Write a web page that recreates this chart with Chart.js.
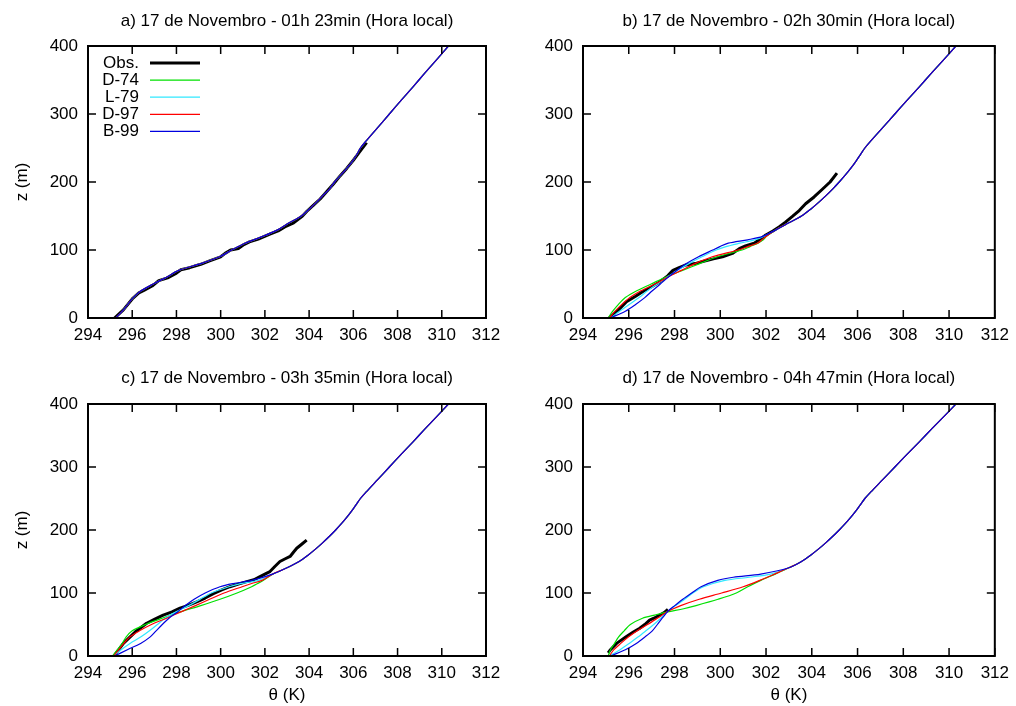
<!DOCTYPE html>
<html lang="pt">
<head>
<meta charset="utf-8">
<title>Perfis de temperatura potencial - 17 de Novembro</title>
<script src="https://cdn.jsdelivr.net/npm/chart.js@4.4.1/dist/chart.umd.min.js"></script>
<style>
  html, body { margin: 0; padding: 0; background: #fff; }
  #figura { position: relative; width: 1016px; height: 706px; }
  #figura canvas { position: absolute; }
</style>
</head>
<body>
<div id="figura">
  <canvas id="grafA" width="508" height="353" style="left:0;top:0"></canvas>
  <canvas id="grafB" width="508" height="353" style="left:508px;top:0"></canvas>
  <canvas id="grafC" width="508" height="353" style="left:0;top:353px"></canvas>
  <canvas id="grafD" width="508" height="353" style="left:508px;top:353px"></canvas>
</div>
<script>
// eixos
const ticksTheta = [294, 296, 298, 300, 302, 304, 306, 308, 310, 312];
const ticksZ = [0, 100, 200, 300, 400];

// acima da camada estavel todas as simulacoes seguem o mesmo perfil
const zTopo =     [140, 150, 160, 170, 180, 190, 200, 210, 220, 230, 240, 250, 260, 280, 300, 320, 340, 360, 380, 400];
const thetaTopo = [303.0, 303.55, 303.95, 304.3, 304.62, 304.92, 305.2, 305.46, 305.7, 305.92, 306.12, 306.32, 306.57, 307.1, 307.63, 308.16, 308.7, 309.23, 309.77, 310.3];

// a) 01h 23min
const zObsA =     [0, 12, 28, 37, 41, 47, 55, 59, 66, 71, 74, 79, 84, 90, 95, 100, 102, 108, 112, 116, 123, 128, 134, 140, 150, 157, 166, 175, 186, 197, 209, 220, 232, 245, 258];
const thetaObsA = [295.2, 295.6, 296.0, 296.3, 296.55, 296.9, 297.2, 297.6, 298.0, 298.2, 298.6, 299.1, 299.5, 300.0, 300.2, 300.45, 300.8, 301.05, 301.3, 301.7, 302.2, 302.6, 302.9, 303.3, 303.7, 303.9, 304.2, 304.5, 304.8, 305.1, 305.4, 305.7, 306.0, 306.3, 306.6];
const zModA =     [0, 10, 20, 30, 40, 50, 60, 70, 80, 90, 100, 110, 120, 130, 140, 150, 160, 170, 180, 190, 200, 210, 220, 230, 240];
const thetaModA = [295.25, 295.55, 295.8, 296.05, 296.4, 296.95, 297.55, 298.1, 299.1, 299.95, 300.5, 301.1, 301.9, 302.6, 303.1, 303.65, 304.0, 304.33, 304.62, 304.93, 305.15, 305.43, 305.7, 305.95, 306.15];

// b) 02h 30min
const zObsB =     [0, 10, 24, 32, 39, 46, 53, 62, 70, 74, 78, 80, 83, 87, 90, 95, 102, 106, 110, 116, 122, 128, 134, 141, 149, 158, 168, 178, 189, 200, 213];
const thetaObsB = [295.15, 295.5, 295.9, 296.3, 296.62, 297.0, 297.35, 297.7, 297.93, 298.2, 298.5, 298.9, 299.23, 299.7, 300.1, 300.53, 300.83, 301.1, 301.48, 301.75, 301.99, 302.3, 302.57, 302.85, 303.14, 303.45, 303.73, 304.1, 304.45, 304.8, 305.1];
const zModB = [0, 10, 20, 30, 40, 50, 60, 70, 80, 90, 100, 105, 110, 115, 120, 130];
const d74B = [295.1, 295.3, 295.55, 295.85, 296.35, 296.98, 297.6, 298.35, 299.1, 299.88, 300.95, 301.3, 301.65, 301.88, 302.02, 302.45];
const l79B = [295.2, 295.6, 296.02, 296.45, 296.82, 297.25, 297.68, 298.12, 298.63, 299.2, 299.82, 300.25, 300.85, 301.5, 301.9, 302.45];
const d97B = [295.15, 295.4, 295.7, 296.05, 296.53, 297.15, 297.7, 298.3, 298.9, 299.65, 300.78, 301.2, 301.62, 301.82, 302.0, 302.45];
const b99B = [295.2, 295.85, 296.3, 296.7, 297.03, 297.38, 297.72, 298.1, 298.52, 299.05, 299.67, 299.98, 300.35, 301.2, 301.85, 302.45];

// c) 03h 35min
const zObsC =     [1, 20, 38, 52, 58, 65, 70, 76, 80, 86, 92, 99, 105, 110, 114, 118, 121, 126, 130, 134, 142, 150, 154, 158, 165, 171, 177, 184];
const thetaObsC = [295.2, 295.6, 296.13, 296.65, 297.0, 297.4, 297.8, 298.16, 298.5, 298.92, 299.3, 299.67, 300.05, 300.42, 300.8, 301.18, 301.5, 301.78, 302.0, 302.23, 302.45, 302.68, 302.9, 303.14, 303.3, 303.44, 303.65, 303.89];
const zModC = [0, 10, 20, 30, 40, 50, 60, 70, 80, 90, 100, 110, 115, 120, 130];
const d74C = [295.1, 295.33, 295.55, 295.72, 296.0, 296.6, 297.35, 298.17, 299.1, 299.97, 300.74, 301.4, 301.67, 301.92, 302.35];
const l79C = [295.15, 295.5, 295.9, 296.38, 296.78, 297.14, 297.48, 297.98, 298.55, 299.07, 299.57, 300.37, 300.9, 301.7, 302.35];
const d97C = [295.15, 295.4, 295.62, 295.88, 296.33, 296.87, 297.55, 298.2, 298.86, 299.5, 300.15, 300.97, 301.4, 301.87, 302.35];
const b99C = [295.2, 295.78, 296.38, 296.8, 297.08, 297.36, 297.66, 298.05, 298.4, 298.8, 299.3, 299.97, 300.57, 301.4, 302.35];

// d) 04h 47min
const zObsD =     [5, 10, 20, 26, 31, 38, 44, 50, 57, 60, 65, 69, 74];
const thetaObsD = [295.1, 295.2, 295.47, 295.7, 295.9, 296.2, 296.48, 296.7, 296.91, 297.1, 297.35, 297.55, 297.71];
const zModD = [0, 10, 20, 30, 40, 50, 60, 65, 70, 75, 80, 90, 100, 110, 120, 125, 130];
const d74D = [295.1, 295.2, 295.38, 295.55, 295.8, 296.07, 296.6, 297.13, 297.7, 298.4, 298.94, 299.9, 300.7, 301.2, 301.77, 302.08, 302.4];
const l79D = [295.15, 295.62, 296.02, 296.4, 296.75, 297.09, 297.4, 297.53, 297.68, 297.85, 298.05, 298.44, 298.8, 299.27, 300.2, 301.26, 302.2];
const d97D = [295.15, 295.35, 295.65, 295.98, 296.37, 296.82, 297.25, 297.46, 297.67, 297.95, 298.27, 299.08, 300.06, 301.0, 301.73, 302.05, 302.37];
const b99D = [295.2, 295.85, 296.33, 296.7, 297.03, 297.25, 297.46, 297.57, 297.69, 297.83, 298.01, 298.36, 298.75, 299.16, 299.89, 300.57, 301.77];

const rotulos = ['Obs.', 'D-74', 'L-79', 'D-97', 'B-99'];
const cores = ['#000000', '#00e000', '#30e8ff', '#ff0000', '#0000e0'];
const espessuras = [3, 1.2, 1.2, 1.2, 1.2];

const paineis = [
  { id: 'grafA', titulo: 'a) 17 de Novembro - 01h 23min (Hora local)', x0: 0, y0: 0,
    area: { l: 88, r: 486, t: 46, b: 318 }, tituloY: 21, eixoY: true, eixoX: false, legenda: true,
    zObs: zObsA, obs: thetaObsA, zMod: zModA, mod: [thetaModA, thetaModA, thetaModA, thetaModA] },
  { id: 'grafB', titulo: 'b) 17 de Novembro - 02h 30min (Hora local)', x0: 508, y0: 0,
    area: { l: 583, r: 997, t: 46, b: 318 }, tituloY: 21, eixoY: false, eixoX: false, legenda: false,
    zObs: zObsB, obs: thetaObsB, zMod: zModB, mod: [d74B, l79B, d97B, b99B] },
  { id: 'grafC', titulo: 'c) 17 de Novembro - 03h 35min (Hora local)', x0: 0, y0: 353,
    area: { l: 88, r: 486, t: 404, b: 656 }, tituloY: 378, eixoY: true, eixoX: true, legenda: false,
    zObs: zObsC, obs: thetaObsC, zMod: zModC, mod: [d74C, l79C, d97C, b99C] },
  { id: 'grafD', titulo: 'd) 17 de Novembro - 04h 47min (Hora local)', x0: 508, y0: 353,
    area: { l: 583, r: 997, t: 404, b: 656 }, tituloY: 378, eixoY: false, eixoX: true, legenda: false,
    zObs: zObsD, obs: thetaObsD, zMod: zModD, mod: [d74D, l79D, d97D, b99D] }
];

const fonte = { family: "'Liberation Sans', Arial, Helvetica, sans-serif", size: 17, weight: 'normal' };
const alturaLinha = fonte.size * 1.2;

Chart.defaults.color = '#000';
Chart.defaults.font.family = fonte.family;
Chart.defaults.font.size = fonte.size;

function pontos(thetas, zs) {
  return thetas.map((t, i) => ({ x: t, y: zs[i] }));
}

// parte baixa de cada simulacao + perfil comum por cima
function comTopo(thetas, zs) {
  const ultimo = zs[zs.length - 1];
  const pts = pontos(thetas, zs);
  zTopo.forEach((z, i) => {
    if (z > ultimo) pts.push({ x: thetaTopo[i], y: z });
  });
  return pts;
}

// moldura com marcas para dentro nos quatro lados (estilo gnuplot)
const moldura = {
  id: 'moldura',
  afterDatasetsDraw(chart) {
    const { ctx, chartArea: a, scales: { x, y } } = chart;
    const tam = 8;
    ctx.save();
    ctx.strokeStyle = '#000';
    ctx.lineWidth = 1.5;
    ctx.beginPath();
    x.ticks.forEach(t => {
      const px = x.getPixelForValue(t.value);
      ctx.moveTo(px, a.bottom); ctx.lineTo(px, a.bottom - tam);
      ctx.moveTo(px, a.top); ctx.lineTo(px, a.top + tam);
    });
    y.ticks.forEach(t => {
      const py = y.getPixelForValue(t.value);
      ctx.moveTo(a.left, py); ctx.lineTo(a.left + tam, py);
      ctx.moveTo(a.right, py); ctx.lineTo(a.right - tam, py);
    });
    ctx.stroke();
    ctx.lineWidth = 2;
    ctx.strokeRect(a.left, a.top, a.right - a.left, a.bottom - a.top);
    ctx.restore();
  }
};

// legenda: texto alinhado a direita e amostra da linha ao lado
const legendaGnuplot = {
  id: 'legendaGnuplot',
  afterDraw(chart, args, opts) {
    if (!opts.display) return;
    const { ctx, chartArea: a } = chart;
    ctx.save();
    ctx.font = fonte.size + 'px ' + fonte.family;
    ctx.textAlign = 'right';
    ctx.textBaseline = 'middle';
    ctx.fillStyle = '#000';
    chart.data.datasets.forEach((ds, i) => {
      const yy = a.top + 17 + i * 17.1;
      const xx = a.left + 51;
      ctx.fillText(ds.label, xx, yy);
      ctx.strokeStyle = ds.borderColor;
      ctx.lineWidth = ds.borderWidth;
      ctx.beginPath();
      ctx.moveTo(xx + 11, yy);
      ctx.lineTo(xx + 61, yy);
      ctx.stroke();
    });
    ctx.restore();
  }
};

paineis.forEach(p => {
  const canvas = document.getElementById(p.id);
  const larg = canvas.width, alt = canvas.height;
  const padTopo = (p.tituloY - p.y0) - alturaLinha / 2;
  const padBaixo = (p.area.t - p.y0) - padTopo - alturaLinha;

  const datasets = [{
    label: rotulos[0], data: pontos(p.obs, p.zObs),
    borderColor: cores[0], borderWidth: espessuras[0], tension: 0, order: 5,
    borderJoinStyle: 'round'
  }];
  p.mod.forEach((serie, i) => {
    datasets.push({
      label: rotulos[i + 1], data: comTopo(serie, p.zMod),
      borderColor: cores[i + 1], borderWidth: espessuras[i + 1], tension: 0.3, order: 4 - i
    });
  });

  new Chart(canvas, {
    type: 'scatter',
    data: { datasets: datasets },
    options: {
      responsive: false,
      animation: false,
      showLine: true,
      elements: { point: { radius: 0, hoverRadius: 0 } },
      layout: { padding: { left: 0, right: p.x0 + larg - p.area.r, top: 0, bottom: 0 } },
      plugins: {
        legend: { display: false },
        tooltip: { enabled: false },
        title: {
          display: true, text: p.titulo, fullSize: false, color: '#000',
          font: fonte, padding: { top: padTopo, bottom: padBaixo }
        },
        legendaGnuplot: { display: p.legenda }
      },
      scales: {
        x: {
          type: 'linear', min: ticksTheta[0], max: ticksTheta[ticksTheta.length - 1],
          afterBuildTicks: s => { s.ticks = ticksTheta.map(v => ({ value: v })); },
          ticks: { padding: 7, maxRotation: 0, autoSkip: false, color: '#000', font: fonte },
          grid: { display: false, drawTicks: false },
          border: { display: false },
          title: { display: p.eixoX, text: 'θ (K)', color: '#000', font: fonte, padding: 0 },
          afterFit: s => { s.height = p.y0 + alt - p.area.b; }
        },
        y: {
          type: 'linear', min: ticksZ[0], max: ticksZ[ticksZ.length - 1],
          afterBuildTicks: s => { s.ticks = ticksZ.map(v => ({ value: v })); },
          ticks: { padding: 10, color: '#000', font: fonte },
          grid: { display: false, drawTicks: false },
          border: { display: false },
          title: { display: p.eixoY, text: 'z (m)', color: '#000', font: fonte, padding: { top: 12, bottom: 0 } },
          afterFit: s => { s.width = p.area.l - p.x0; }
        }
      }
    },
    plugins: [moldura, legendaGnuplot]
  });
});
</script>
</body>
</html>
